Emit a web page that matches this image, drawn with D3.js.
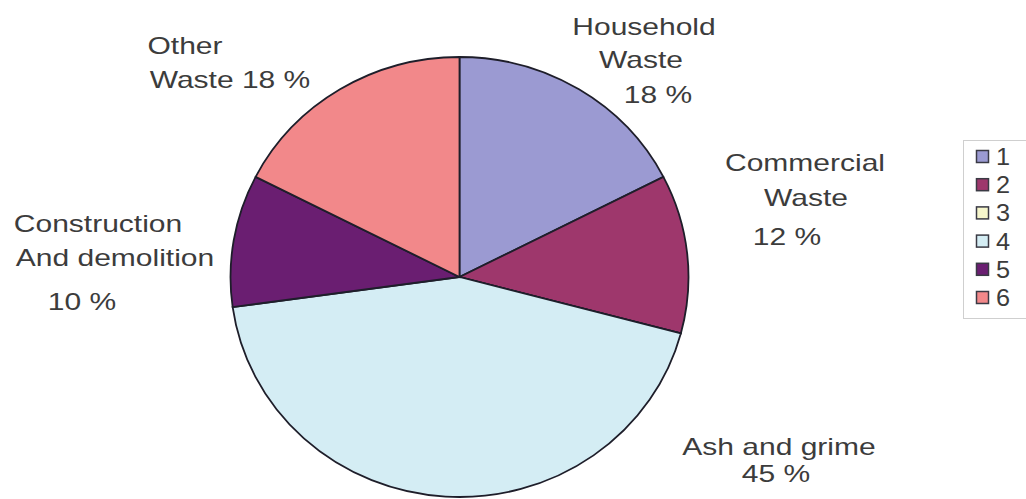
<!DOCTYPE html>
<html>
<head>
<meta charset="utf-8">
<script src="https://cdn.jsdelivr.net/npm/d3@7"></script>
<style>
  html, body { margin: 0; padding: 0; background: #fff; }
  svg { display: block; }
  text { font-family: "Liberation Sans", Arial, sans-serif; fill: #3c3c3c; }
</style>
</head>
<body>
<svg id="chart" width="1026" height="499"></svg>
<script>
// Waste composition (percent), in legend order
const categories = ["1", "2", "3", "4", "5", "6"];
const names = ["Household Waste", "Commercial Waste", "", "Ash and grime", "Construction And demolition", "Other Waste"];
const values = [18, 12, 0, 45, 10, 18];
const colors = ["#9b9ad2", "#9e376c", "#f6f6cc", "#d4edf4", "#6a1e71", "#f2888a"];

// Slice label lines: [lines, anchor, x, y of first line]
const labelLines = [
  [["Household", "Waste", "18 %"], [[644, 35], [641, 68], [658, 103]]],
  [["Commercial", "Waste", "12 %"], [[805, 171], [806, 206], [787, 245]]],
  [[], []],
  [["Ash and grime", "45 %"], [[779, 455], [776, 482]]],
  [["Construction", "And demolition", "10 %"], [[98, 232], [115, 266], [82, 310]]],
  [["Other", "Waste 18 %"], [[185, 54], [230, 88]]]
];

const svg = d3.select("#chart");

const cx = 459.5, cy = 277, rx = 229, ry = 220;

const pie = d3.pie().sort(null).value(d => d)
  .startAngle(0).endAngle(2 * Math.PI);
const arc = d3.arc().innerRadius(0).outerRadius(rx);

const g = svg.append("g")
  .attr("transform", `translate(${cx},${cy}) scale(1,${ry / rx})`);

g.selectAll("path")
  .data(pie(values))
  .join("path")
  .attr("d", arc)
  .attr("fill", (d, i) => colors[i])
  .attr("stroke", "#1e1e2a")
  .attr("stroke-width", 1.8)
  .attr("vector-effect", "non-scaling-stroke");

// slice labels, glyphs widened slightly
const sx = 1.25;
labelLines.forEach(([lines, pos]) => {
  lines.forEach((t, j) => {
    svg.append("text")
      .attr("transform", `translate(${pos[j][0]},${pos[j][1]}) scale(${sx},1)`)
      .attr("text-anchor", "middle")
      .attr("font-size", 24)
      .text(t);
  });
});

// legend
const legend = svg.append("g");
legend.append("rect")
  .attr("x", 963.5).attr("y", 140.5)
  .attr("width", 80).attr("height", 178)
  .attr("fill", "#fff")
  .attr("stroke", "#cfcfcf");

const ly = d3.scalePoint().domain(categories).range([157, 298]);
const items = legend.selectAll("g.item")
  .data(categories)
  .join("g")
  .attr("class", "item")
  .attr("transform", d => `translate(0,${ly(d)})`);

items.append("rect")
  .attr("x", 976.5).attr("y", -6.5)
  .attr("width", 12).attr("height", 12)
  .attr("fill", (d, i) => colors[i])
  .attr("stroke", "#3a3a44")
  .attr("stroke-width", 1.5);

items.append("text")
  .attr("transform", "translate(996,8) scale(1.1,1)")
  .attr("font-size", 23)
  .text(d => d);
</script>
</body>
</html>
